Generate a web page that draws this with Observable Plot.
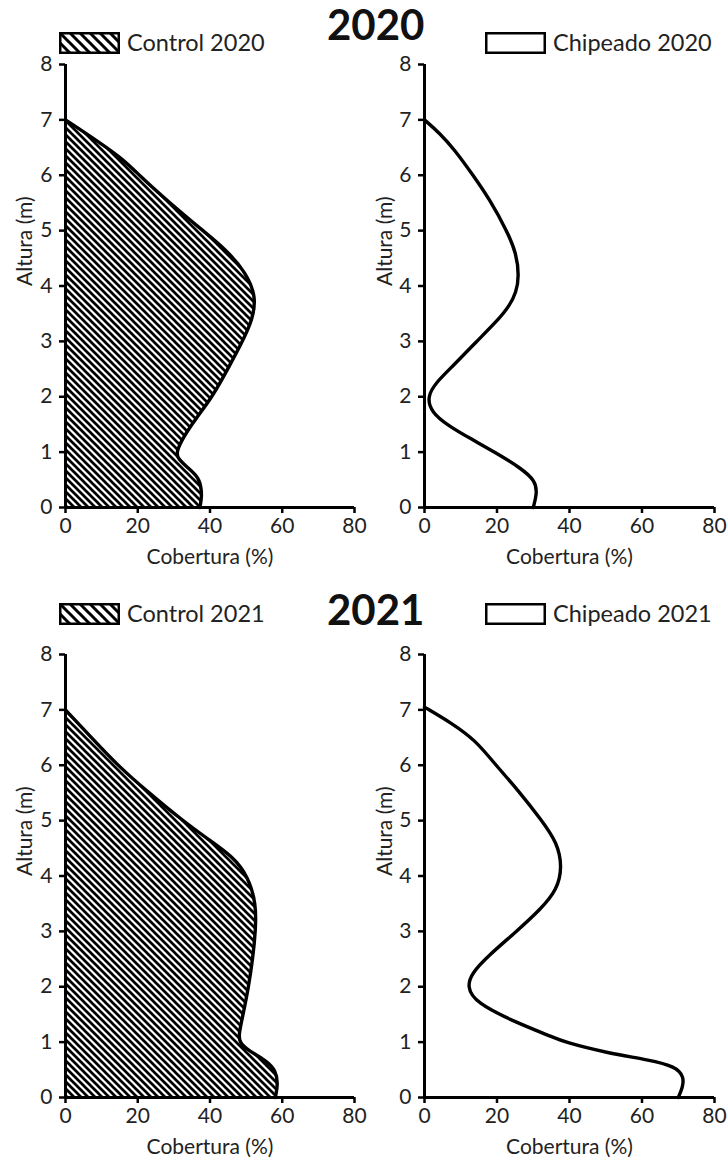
<!DOCTYPE html>
<html>
<head>
<meta charset="utf-8">
<script src="https://cdn.jsdelivr.net/npm/d3@7"></script>
<script src="https://cdn.jsdelivr.net/npm/@observablehq/plot@0.6"></script>
<style>
  html, body { margin: 0; padding: 0; background: #fff; }
  #page { position: relative; width: 728px; height: 1158px; font-family: Lato, "Liberation Sans", sans-serif; color: #222; }
  .panel { position: absolute; }
  .title { position: absolute; font-weight: bold; font-size: 42px; line-height: 30px; color: #111; }
  .legend { position: absolute; display: flex; align-items: center; font-size: 23.5px; line-height: 23px; color: #222; }
  .legend svg { margin-right: 6px; display: block; }
</style>
</head>
<body>
<div id="page"></div>
<script>
// ---- data (height in m, cover in %) ----
const years = ["2020", "2021"];
const control2020Height = [0, 0.15, 0.3, 0.54, 0.72, 0.89, 1, 1.25, 1.6, 2, 2.56, 3, 3.4, 3.8, 4.24, 4.66, 5, 5.56, 6, 6.31, 6.76, 7];
const control2020Cover  = [37.2, 37.6, 37.7, 37, 33.8, 31, 30.7, 32.4, 36, 40.7, 45.4, 49, 51.8, 52.8, 50, 44.4, 38, 27.8, 20.4, 15.7, 5.6, 0];
const chip2020Height = [0, 0.24, 0.48, 0.72, 1, 1.24, 1.48, 1.72, 2, 2.26, 2.56, 3, 3.4, 3.64, 3.88, 4.18, 4.6, 5, 5.56, 6, 6.46, 6.76, 7];
const chip2020Cover  = [30, 31, 30.7, 26.4, 19.4, 12.8, 6.5, 1.9, 0.7, 3.2, 7.9, 14.4, 20.5, 23.4, 25.3, 26.1, 25.3, 22.7, 18, 13.4, 8.3, 4.2, 0];
const control2021Height = [0, 0.24, 0.48, 0.67, 0.85, 1, 1.15, 1.45, 2, 2.55, 3, 3.5, 4, 4.35, 4.65, 5, 5.55, 6, 6.52, 7];
const control2021Cover  = [58.1, 58.8, 58.3, 55.5, 50.5, 48.1, 48, 49, 50.7, 51.9, 52.6, 52.8, 50.5, 46.3, 39.8, 32.4, 22.2, 14.4, 6.9, 0];
const chip2021Height = [0, 0.18, 0.37, 0.56, 0.68, 0.8, 1, 1.11, 1.35, 1.71, 2, 2.25, 2.55, 3, 3.39, 3.75, 4.17, 4.6, 5, 5.55, 6, 6.45, 6.76, 7.05];
const chip2021Cover  = [70, 71.2, 71.6, 69.3, 61.9, 50.7, 38.5, 34.7, 25.4, 14.1, 11.7, 13.1, 17.4, 25.4, 31.9, 36.6, 38, 36.6, 32.4, 25.8, 19.7, 14.1, 7.5, 0];
const xTicks = [0, 20, 40, 60, 80];
const yTicks = [0, 1, 2, 3, 4, 5, 6, 7, 8];
const xLabel = "Cobertura (%)";
const yLabel = "Altura (m)";
const controlNames = ["Control 2020", "Control 2021"];
const chipNames = ["Chipeado 2020", "Chipeado 2021"];

const toRows = (h, v) => h.map((d, i) => ({h: d, v: v[i]}));

function hatchDefs(id, period, sw) {
  return () => {
    const defs = d3.create("svg:defs");
    const p = defs.append("pattern")
      .attr("id", id).attr("patternUnits", "userSpaceOnUse")
      .attr("width", period).attr("height", period);
    p.append("path")
      .attr("d", `M${-period},0 L${period},${2*period} M0,${-period} L${2*period},${period} M${-period/2},${-period/2} L${period*1.5},${period*1.5}`)
      .attr("stroke", "#000").attr("stroke-width", sw);
    return defs.node();
  };
}

function panel({rows, hatched, id, leftPanel}) {
  const mL = leftPanel ? 65 : 60;
  const mR = leftPanel ? 10 : 14;
  const marks = [];
  if (hatched) {
    marks.push(hatchDefs(id, 7, 2.7));
    marks.push(Plot.areaX(rows, {y: "h", x1: 0, x2: "v", fill: `url(#${id})`, curve: "basis"}));
  }
  marks.push(Plot.line(rows, {x: "v", y: "h", stroke: "#000", strokeWidth: 3.4, curve: "basis"}));
  marks.push(Plot.axisX({ticks: xTicks, tickSize: 6, tickPadding: 5, strokeWidth: 2.5, stroke: "#000", label: null}));
  marks.push(Plot.axisY({ticks: yTicks, tickSize: 6, tickPadding: 7, strokeWidth: 2.5, stroke: "#000", label: null}));
  marks.push(Plot.ruleY([0], {stroke: "#000", strokeWidth: 3}));
  marks.push(Plot.ruleX([0], {stroke: "#000", strokeWidth: 3}));
  marks.push(Plot.text([xLabel], {frameAnchor: "bottom", lineAnchor: "middle", dy: 50, fontSize: 21, fill: "#222"}));
  marks.push(Plot.text([yLabel], {frameAnchor: "left", lineAnchor: "middle", rotate: -90, dx: leftPanel ? -40 : -39, fontSize: 21, fill: "#222"}));
  return Plot.plot({
    width: 364, height: 520,
    marginLeft: mL, marginRight: mR, marginTop: 9, marginBottom: 68,
    x: {domain: [0, 80]},
    y: {domain: [0, 8]},
    style: {fontFamily: "Lato, 'Liberation Sans', sans-serif", fontSize: "21px", color: "#222", background: "transparent", overflow: "visible"},
    marks
  });
}

function legendItem(name, hatched, id) {
  const div = document.createElement("div");
  div.className = "legend";
  const svg = d3.create("svg").attr("width", 62).attr("height", 22);
  if (hatched) {
    const p = svg.append("defs").append("pattern")
      .attr("id", id).attr("patternUnits", "userSpaceOnUse")
      .attr("width", 10).attr("height", 10);
    p.append("path").attr("d", "M-10,0 L10,20 M0,-10 L20,10 M-5,-5 L15,15")
      .attr("stroke", "#000").attr("stroke-width", 3);
  }
  svg.append("rect").attr("x", 1.25).attr("y", 1.25).attr("width", 58.5).attr("height", 19.5)
    .attr("fill", hatched ? `url(#${id})` : "#fff").attr("stroke", "#000").attr("stroke-width", 2.5);
  div.appendChild(svg.node());
  const span = document.createElement("span");
  span.textContent = name;
  div.appendChild(span);
  return div;
}

const page = document.getElementById("page");
const rowsets = [
  [toRows(control2020Height, control2020Cover), toRows(chip2020Height, chip2020Cover)],
  [toRows(control2021Height, control2021Cover), toRows(chip2021Height, chip2021Cover)]
];
const blockTop = [55, 645];
const titleTop = [9, 594];
const legendTop = [31, 602];

years.forEach((yr, i) => {
  const left = panel({rows: rowsets[i][0], hatched: true, id: `hatch${yr}`, leftPanel: true});
  left.classList.add("panel");
  left.style.left = "0px"; left.style.top = blockTop[i] + "px";
  page.appendChild(left);
  const right = panel({rows: rowsets[i][1], hatched: false, id: `none${yr}`, leftPanel: false});
  right.classList.add("panel");
  right.style.left = "364px"; right.style.top = blockTop[i] + "px";
  page.appendChild(right);

  const t = document.createElement("div");
  t.className = "title"; t.textContent = yr;
  t.style.left = "327px"; t.style.top = titleTop[i] + "px";
  page.appendChild(t);

  const l1 = legendItem(controlNames[i], true, `lh${yr}`);
  l1.style.left = "59px"; l1.style.top = legendTop[i] + "px";
  page.appendChild(l1);
  const l2 = legendItem(chipNames[i], false, `lc${yr}`);
  l2.style.left = "485px"; l2.style.top = legendTop[i] + "px";
  page.appendChild(l2);
});
</script>
</body>
</html>
